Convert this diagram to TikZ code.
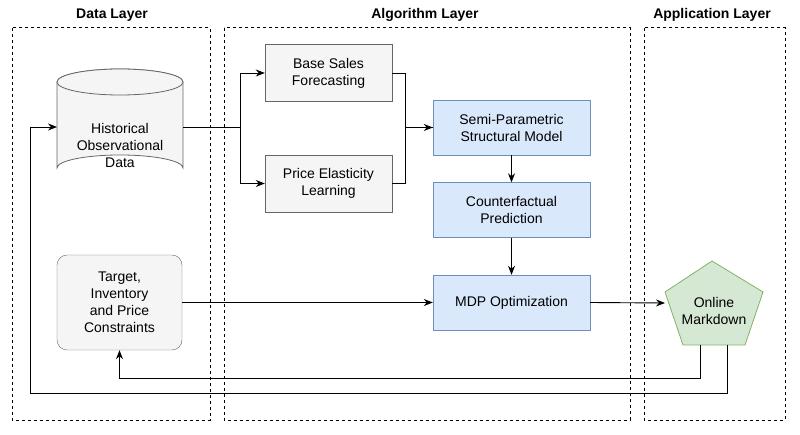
\documentclass[tikz,border=0pt]{standalone}
\usepackage{fontspec}
\setmainfont{Liberation Sans}
\usetikzlibrary{arrows.meta}
\definecolor{gfill}{HTML}{F5F5F5}\definecolor{gline}{HTML}{666666}
\definecolor{bfill}{HTML}{DAE8FC}\definecolor{bline}{HTML}{6C8EBF}
\definecolor{pfill}{HTML}{D5E8D4}\definecolor{pline}{HTML}{82B366}
\begin{document}
\begin{tikzpicture}[x=1pt,y=-1pt,
 lay/.style={draw,dashed,line width=1pt,dash pattern=on 3pt off 3pt},
 title/.style={font=\fontsize{14}{16}\selectfont\bfseries},
 gbox/.style={draw=gline,fill=gfill,minimum width=127pt,minimum height=57pt,align=center,font=\fontsize{14}{17}\selectfont},
 bbox/.style={draw=bline,fill=bfill,minimum width=157pt,minimum height=55pt,align=center,font=\fontsize{14}{17}\selectfont},
 con/.style={draw,line width=0.9pt,-{Stealth[length=9pt,width=7pt]}},
 pl/.style={draw,line width=0.9pt}]
\useasboundingbox (0,0) rectangle (800,435);
\draw[lay] (12,28) rectangle (210,420);
\draw[lay] (224,28) rectangle (630,420);
\draw[lay] (644,28) rectangle (785,420);
\node[title] (t1) at (112,15) {Data Layer};
\node[title] (t2) at (425,15) {Algorithm Layer};
\node[title] (t3) at (712,15) {Application Layer};
% cylinder
\filldraw[draw=gline,fill=gfill,line width=0.8pt] (57,82) arc[start angle=180,end angle=360,x radius=63,y radius=13] -- (183,168) arc[start angle=0,end angle=-180,x radius=63,y radius=13] -- cycle;
\filldraw[draw=gline,fill=gfill,line width=0.8pt] (120,82) ellipse[x radius=63,y radius=13];
\node[align=center,font=\fontsize{14}{17}\selectfont] (hist) at (120,145) {Historical\\Observational\\Data};
\coordinate (histR) at (183,127);
\coordinate (histL) at (57,127);
\node[gbox] (base) at (328.5,73) {Base Sales\\Forecasting};
\node[gbox] (price) at (328.5,183.5) {Price Elasticity\\Learning};
\node[bbox] (semi) at (511.5,127.5) {Semi-Parametric\\Structural Model};
\node[bbox] (cf) at (511.5,210) {Counterfactual\\Prediction};
\node[bbox] (mdp) at (511.5,302.5) {MDP Optimization};
\node[gbox,rounded corners=10pt,minimum width=125pt,minimum height=95pt] (tgt) at (119.5,302.5) {Target,\\Inventory\\and Price\\Constraints};
% pentagon
\filldraw[draw=pline,fill=pfill,line width=0.8pt] (712,261) -- (763,292) -- (745,345) -- (683,345) -- (665,292) -- cycle;
\node[align=center,font=\fontsize{14}{17}\selectfont] (om) at (714,311) {Online\\Markdown};
\coordinate (omL) at (665,303);
\coordinate (omB1) at (700,345);
\coordinate (omB2) at (727,345);
% connectors
\draw[pl] (histR) -- (240,127) coordinate (sp);
\draw[con] (sp) |- (base.west);
\draw[con] (sp) |- (price.west);
\draw[pl] (base.east) -- (405,73) coordinate (j1) |- (semi.west);
\draw[pl] (price.east) -| (j1);
\draw[con] (405,127.5) -- (semi.west);
\draw[con] (semi) -- (cf);
\draw[con] (cf) -- (mdp);
\draw[con] (tgt.east) -- (mdp.west);
\draw[con] (mdp.east) -- (omL);
\draw[con] (omB1) -- (700,378) -| (tgt.south);
\draw[con] (omB2) -- (727,393) -- (30,393) |- (histL);
\end{tikzpicture}
\end{document}
